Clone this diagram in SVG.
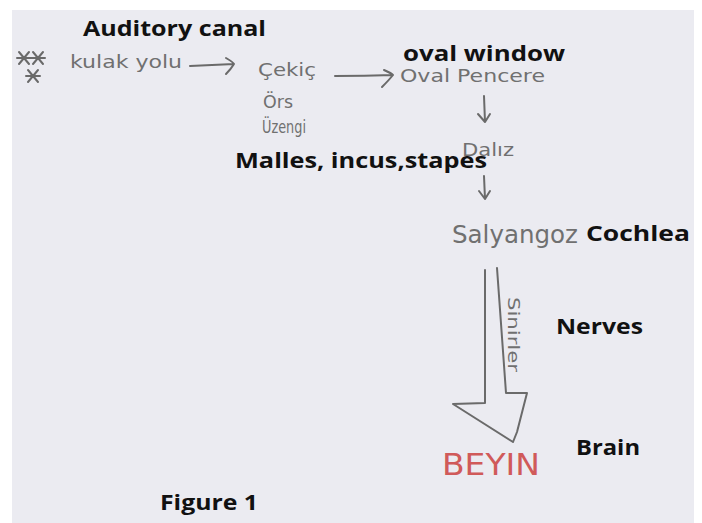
<svg xmlns="http://www.w3.org/2000/svg" width="702" height="523" viewBox="0 0 702 523">
<style>
.hw{font-family:"DejaVu Sans","Liberation Sans",sans-serif;fill:#707070;font-weight:normal}
.lbl{font-family:"Open Sans","Liberation Sans",sans-serif;font-weight:bold;fill:#111}
.ln{fill:none;stroke:#6a6a6a;stroke-width:2;stroke-linecap:round;stroke-linejoin:round}
</style>
<rect x="0" y="0" width="702" height="523" fill="#ffffff"/>
<rect x="12" y="10" width="682" height="513" fill="#ebebf1"/>
<g id="stars" class="ln" stroke-width="1.8">
<path d="M19 52 L29 64 M29 52 L19 64 M17 58 L31 58"/>
<path d="M33 52 L43 64 M43 52 L33 64 M31 58 L45 58"/>
<path d="M28 70 L38 82 M38 70 L28 82 M26 76 L40 76"/>
</g>
<g id="kulak-yolu"><text class="hw" x="70" y="68" font-size="17" textLength="112" lengthAdjust="spacingAndGlyphs">kulak yolu</text></g>
<g id="cekic"><text class="hw" x="258" y="76" font-size="17" textLength="58" lengthAdjust="spacingAndGlyphs">Çekiç</text>
<text class="hw" x="263" y="108" font-size="17" textLength="30" lengthAdjust="spacingAndGlyphs">Örs</text>
<text class="hw" x="262" y="133" font-size="18" textLength="44" lengthAdjust="spacingAndGlyphs">Üzengi</text></g>
<g id="oval-pencere"><text class="hw" x="400" y="82" font-size="18" textLength="145" lengthAdjust="spacingAndGlyphs">Oval Pencere</text></g>
<g id="daliz"><text class="hw" x="462" y="156" font-size="18" textLength="52" lengthAdjust="spacingAndGlyphs">Dalız</text></g>
<g id="salyangoz"><text class="hw" x="452" y="243" font-size="25" textLength="126" lengthAdjust="spacingAndGlyphs">Salyangoz</text></g>
<g id="beyin"><text x="442" y="475" font-family="DejaVu Sans, Liberation Sans, sans-serif" font-size="30" fill="#d05a5a" textLength="98" lengthAdjust="spacingAndGlyphs">BEYIN</text></g>
<g id="connectors">
<path class="ln" d="M190 66 Q212 65 234 64 M226 58 Q233 62 234 64 Q231 69 226 74"/>
<path class="ln" d="M335 76 Q365 76 393 75 M384 70 Q391 73 393 75 Q389 80 382 87"/>
<path class="ln" d="M484 96 L485 122 M478 114 L485 122 L490 114"/>
<path class="ln" d="M484 176 L485 199 M479 191 L485 199 L490 191"/>
<path class="ln" d="M485 270 L485 403 L453 404 L513 442 M497 268 L506 393 L527 393 L517 432 L513 442"/>
<text class="hw" x="508" y="297" font-size="16" transform="rotate(90 508 297)" textLength="75" lengthAdjust="spacingAndGlyphs">Sinirler</text>
</g>
<g id="labels">
<text class="lbl" x="83" y="36" font-size="22" textLength="183" lengthAdjust="spacingAndGlyphs">Auditory canal</text>
<text class="lbl" x="403" y="61" font-size="22" textLength="162" lengthAdjust="spacingAndGlyphs">oval window</text>
<text class="lbl" x="235" y="168" font-size="22" textLength="252" lengthAdjust="spacingAndGlyphs">Malles, incus,stapes</text>
<text class="lbl" x="586" y="241" font-size="22" textLength="104" lengthAdjust="spacingAndGlyphs">Cochlea</text>
<text class="lbl" x="556" y="334" font-size="22" textLength="87" lengthAdjust="spacingAndGlyphs">Nerves</text>
<text class="lbl" x="576" y="455" font-size="22" textLength="64" lengthAdjust="spacingAndGlyphs">Brain</text>
<text class="lbl" x="160" y="510" font-size="22" textLength="98" lengthAdjust="spacingAndGlyphs">Figure 1</text>
</g>
</svg>
